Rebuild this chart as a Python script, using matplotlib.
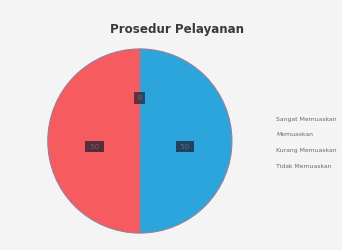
import matplotlib
matplotlib.use("Agg")
import matplotlib.pyplot as plt
import numpy as np

categories = ["Sangat Memuaskan", "Memuaskan", "Kurang Memuaskan", "Tidak Memuaskan"]
values = [50, 50, 0, 0]
colors = ["#2ba5dc", "#f55b5f", "#a5a5a5", "#f2c14e"]
title = "Prosedur Pelayanan"

fig = plt.figure(figsize=(3.42, 2.5), dpi=100, facecolor="#f4f4f4")
ax = fig.add_axes([0.137, 0.064, 0.5439, 0.744])
ax.set_facecolor("#f4f4f4")

wedges, texts = ax.pie(values, colors=colors, startangle=90, counterclock=False,
                       wedgeprops=dict(linewidth=0.8, edgecolor="#9a7f9a"))
ax.set_xlim(-1.01, 1.01)
ax.set_ylim(-1.01, 1.01)
ax.set_aspect("equal")

ang = 90.0
total = sum(values)
for i, v in enumerate(values):
    span = v / total * 360
    mid = np.deg2rad(ang - span / 2)
    if v > 0:
        x, y = 0.49 * np.cos(mid), 0.49 * np.sin(mid) - 0.06
        txt, pad, alpha = " %d " % v, 0.4, 0.72
    else:
        x, y = 0.47 * np.cos(mid), 0.47 * np.sin(mid)
        txt, pad, alpha = str(v), 0.45, 0.42
    ax.text(x, y, txt, ha="center", va="center", fontsize=5, color="#6a6a70",
            bbox=dict(boxstyle="square,pad=%g" % pad, fc="#1c1c2e", ec="none",
                      alpha=alpha))
    ang -= span

fig.text(0.518, 0.88, title, ha="center", va="center", fontsize=8.6,
         fontweight="bold", color="#3a3a3a")

handles = [plt.Line2D([], [], linestyle="none") for _ in categories]
fig.legend(handles, categories, loc="upper left", bbox_to_anchor=(0.808, 0.535),
           frameon=False, fontsize=4.4, handlelength=0, handletextpad=0,
           labelspacing=1.75, labelcolor="#6a6a6a", borderaxespad=0, borderpad=0)

fig.savefig("out.png", dpi=100, facecolor=fig.get_facecolor())
